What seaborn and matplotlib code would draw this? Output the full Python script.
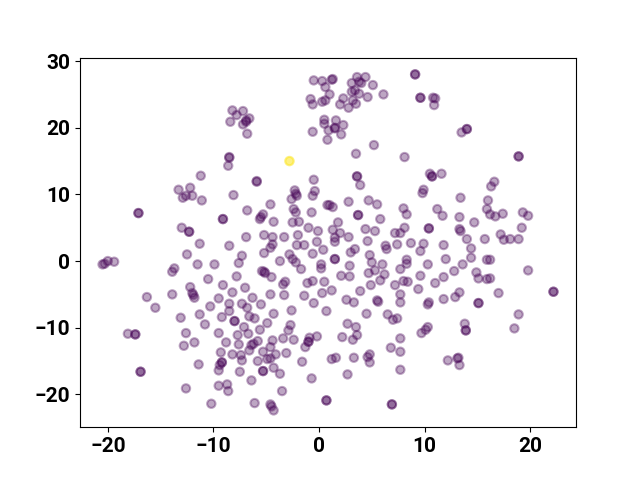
import matplotlib
matplotlib.use("Agg")
import matplotlib.pyplot as plt
import seaborn as sns
import pandas as pd

# embedding coordinates
x_vals = [
    -11.2, -0.5, 0.3, 0.6, -0.8, -0.6, 0.3, 0.6, -8.2, -7.8, -7.2, -8.4, -6.9, -6.9,
    -6.6, -7.2, -6.8, 0.5, 0.5, -0.6, 0.8, -8.5, -8.5, -8.6, -2.8, -5.9, -5.9, -0.5,
    1.3, 1.2, 3.1, 3.6, 4.4, 4.0, 3.8, 5.1, 3.4, 3.1, 3.8, 1.0, 2.3, 2.0, 3.2, 3.5,
    2.8, 4.6, 6.1, 9.1, 9.1, 9.6, 9.6, 10.8, 11.0, 10.9, 1.6, 2.3, 1.5, 1.5, 0.9,
    2.1, 5.2, 3.5, 8.1, 3.6, 3.6, 10.5, 10.7, 10.7, 11.6, 13.5, 14.0, 14.0, 18.9,
    18.9, 16.6,
    -13.3, -12.2, -12.9, -12.6, -12.0, -11.1, -17.1, -17.1, -13.0, -12.3, -12.3,
    -11.3, -12.5, -11.5, -20.5, -20.3, -20.0, -19.4, -13.7, -13.9, -12.2, -12.0,
    -11.9, -11.8, -16.3, -13.9,
    -8.1, -2.3, -0.4, -2.1, -2.2, -2.6, -0.6, -4.6, -6.8, -5.3, -5.6, -5.5, -4.3,
    -2.4, -2.2, -0.7, 0.8, 1.0, 1.3, -2.5, -1.9, -1.0, -0.1, -9.1, -9.1, -6.9, -5.2,
    -4.4, -3.3, -2.0, -8.5, -4.4, -4.6, -2.1, -1.4, -0.2, 0.4, -0.6, -5.2, -7.3,
    -7.6, -9.9, -2.8, -2.5, -2.2, -3.7, 0.2, 0.2, -1.7, -5.2, -5.4, -5.1, -4.5,
    -7.8, -10.5, -3.2, -3.4, -0.6, -1.1, 0.5, -9.1, -7.0, -8.2, -9.5, -6.3, -4.6,
    -3.3, -1.4, 0.3, -0.5, -10.3, -8.5, -7.3, -5.5,
    3.9, 9.9, 9.8, 2.8, 4.7, 5.5, 3.7, 3.7, 5.8, 8.0, 8.3, 11.2, 11.7, 10.4, 10.4,
    1.8, 1.3, 2.0, 1.5, 1.5, 2.8, 4.4, 5.3, 4.6, 7.2, 7.7, 8.1, 6.3, 6.4, 7.4, 8.7,
    9.9, 9.6, 11.8, 3.0, 3.4, 1.5, 1.5, 4.8, 5.0, 6.0, 8.3, 8.3, 10.3, 12.0, 2.9,
    5.3, 4.7, 6.2, 7.7, 2.1, 2.9, 5.8, 4.9, 7.2, 8.0, 8.4, 9.6, 11.0, 11.8, 1.2,
    3.9, 7.7, 9.4, 2.6, 3.3, 5.5, 5.6, 7.7, 10.4, 10.3, 11.8,
    16.3, 13.4, 16.0, 15.9, 16.2, 16.7, 17.4, 19.3, 19.8, 13.3, 14.7, 13.3, 13.4,
    14.0, 15.7, 17.2, 17.5, 18.1, 18.9, 19.2, 14.4, 14.4, 15.9, 16.2, 13.6, 12.8,
    19.8, 14.9, 15.1, 15.9, 16.2, 13.3, 12.9, 17.0, 22.2, 22.2, 15.1, 15.1,
    -15.5, -13.1, -11.3, -10.8, -18.1, -17.4, -17.4, -12.6, -12.8, -11.8, -16.9,
    -16.9, -11.4, -12.6,
    -8.5, -9.2, -6.8, -6.6, -6.1, -4.3, -2.6, -8.0, -8.0, -7.1, -4.9, -2.7, -2.9,
    -5.6, -9.5, -7.7, -6.7, -8.8, -7.6, -6.2, -6.4, -5.8, -4.4, -3.4, -2.4, -0.9,
    -0.2, -1.0, -1.0, -1.3, -4.6, -6.6, -5.3, -4.1, -3.1, -9.3, -8.2, -7.4, -7.3,
    -4.6, -4.9, -5.8, -9.2, -9.2, -9.4, -9.5, -7.5, -5.3, -5.3, -4.3, -3.7, -1.6,
    -0.7, -6.4, -9.5, -8.7, -8.6, -3.5, -10.2, -6.1, -4.6, -4.5, -4.3, 0.7, 0.7,
    0.7,
    4.5, 6.5, 7.0, 7.4, 2.7, 3.5, 2.2, 3.2, 3.6, 9.7, 10.1, 10.3, 7.7, 6.8, 7.7,
    1.2, 1.6, 3.3, 4.6, 4.8, 4.8, 7.7, 12.2, 2.7, 6.9, 6.9,
    18.9, 13.8, 13.9, 13.9, 18.5, 13.2, 13.1, 13.3,
    -2.8,
]
y_vals = [
    12.8, 27.1, 27.0, 26.1, 24.3, 23.5, 23.9, 24.1, 22.6, 21.9, 22.5, 20.9, 21.1, 20.9,
    21.4, 20.5, 19.1, 21.2, 20.6, 19.4, 18.2, 15.5, 15.6, 14.3, 15.0, 12.0, 11.9, 12.2,
    27.3, 27.2, 26.7, 27.6, 27.6, 26.7, 26.9, 26.4, 25.6, 25.4, 25.1, 25.0, 24.4, 23.5, 24.1, 23.6,
    23.0, 24.6, 25.0, 28.0, 28.0, 24.5, 24.5, 24.5, 24.4, 23.4, 21.1, 20.4, 20.0, 19.9, 19.6,
    19.0, 17.4, 16.1, 15.6, 12.7, 12.7, 13.1, 12.7, 12.7, 13.1, 19.3, 19.8, 19.8, 15.7,
    15.7, 11.9,
    10.7, 11.0, 9.5, 9.8, 9.8, 9.1, 7.2, 7.2, 5.0, 4.4, 4.4,
    2.6, 1.0, -0.5, -0.5, -0.4, 0.0, -0.1, -1.1, -1.6, -3.9, -4.8,
    -5.1, -5.5, -5.4, -5.0,
    9.9, 10.6, 10.5, 9.8, 10.1, 9.3, 9.8, 8.5, 7.6, 7.0, 6.3, 6.6, 5.9,
    7.8, 7.3, 7.3, 8.4, 8.4, 8.1, 5.8, 5.9, 5.0, 4.5, 6.3, 6.3, 3.6, 3.9,
    3.6, 3.6, 3.9, 2.3, 2.5, 2.0, 2.4, 2.4, 2.9, 1.7, 1.1, 1.2, 0.8,
    -0.3, -0.5, 1.0, 0.3, -0.2, 0.0, -0.5, -1.1, -1.2, -1.6, -1.5, -1.8, -2.4,
    -2.3, -2.7, -3.1, -3.5, -3.0, -3.3, -3.1, -3.6, -4.0, -4.7, -5.6, -5.5, -5.0,
    -5.1, -5.2, -4.8, -6.3, -6.8, -6.4, -6.4, -6.5,
    11.4, 10.7, 10.2, 8.9, 9.1, 8.5, 6.9, 6.9, 6.3, 7.9, 7.0, 7.8, 6.8, 4.9, 4.9,
    5.8, 4.7, 4.2, 3.5, 2.9, 3.6, 4.8, 4.5, 3.0, 4.2, 4.2, 5.0, 2.3, 1.8, 2.5, 2.7,
    2.6, 1.5, 2.4, 1.3, 1.8, 0.3, 0.3, 0.9, -0.2, -0.5, 0.2, -0.4, -0.5, 0.3, -0.7,
    -1.4, -1.8, -2.0, -1.2, -2.2, -2.3, -2.9, -3.6, -3.6, -3.0, -3.1, -2.2, -3.3, -2.4, -4.4,
    -4.5, -5.0, -4.2, -5.8, -6.2, -5.9, -6.1, -6.2, -6.2, -6.5, -5.7,
    11.2, 9.5, 9.1, 7.8, 7.0, 6.7, 7.1, 7.3, 6.8, 6.6, 5.8, 4.8, 4.5,
    3.3, 3.3, 4.0, 3.2, 3.3, 3.3, 5.0, 1.9, 0.5, 0.2, 0.2, -0.5, -1.5,
    -1.4, -1.7, -2.6, -2.7, -2.6, -4.7, -5.4, -4.8, -4.6, -4.6, -6.3, -6.3,
    -7.0, -8.5, -8.0, -9.5, -10.9, -11.0, -11.0, -10.8, -12.7, -12.2, -16.6,
    -16.6, -15.5, -19.1,
    -7.5, -8.4, -7.0, -8.3, -8.6, -7.9, -7.4, -9.0, -9.0, -9.9, -9.3, -9.6, -10.4,
    -10.3, -10.8, -11.1, -10.9, -12.2, -12.5, -12.4, -12.6, -12.0, -11.9, -11.6, -11.8, -11.5,
    -11.3, -12.1, -12.1, -12.9, -12.9, -13.4, -13.6, -14.0, -13.8, -13.7, -14.0, -14.1, -14.9,
    -14.6, -14.7, -15.0, -15.2, -15.2, -15.6, -16.4, -16.6, -16.5, -16.5, -16.0, -16.9, -15.1,
    -17.6, -17.9, -18.7, -18.5, -19.5, -19.5, -21.4, -21.3, -21.5, -21.8, -22.4, -20.9, -20.9,
    -7.5,
    -7.9, -8.0, -8.8, -8.6, -9.4, -9.9, -11.4, -11.8, -11.1, -10.8, -10.3, -9.9, -11.6, -13.0, -13.6,
    -14.7, -14.5, -14.5, -14.4, -14.0, -15.2, -16.3, -14.9, -17.0, -21.5, -21.5,
    -8.0, -9.4, -10.4, -10.4, -10.1, -14.5, -14.6, -15.6,
    15.0,
]
# cluster label of each point (the two overlapping points at (-2.8, 15) form the second cluster)
cluster = [0] * len(x_vals)
cluster[24] = 1
cluster[-1] = 1

df = pd.DataFrame({"x": x_vals, "y": y_vals, "cluster": cluster})

fig, ax = plt.subplots(figsize=(6.4, 4.8), dpi=100)
sns.scatterplot(
    data=df, x="x", y="y", hue="cluster", palette="viridis", hue_norm=(0, 1),
    alpha=0.35, s=36, linewidth=1.5, edgecolor="face", legend=False, ax=ax,
)
ax.set_xlabel("")
ax.set_ylabel("")
ax.set_xticks([-20, -10, 0, 10, 20])
ax.set_yticks([-20, -10, 0, 10, 20, 30])
for lab in ax.get_xticklabels() + ax.get_yticklabels():
    lab.set_fontfamily("Roboto")
    lab.set_fontweight("bold")
    lab.set_fontsize(15)

fig.savefig("out.png", dpi=100)
